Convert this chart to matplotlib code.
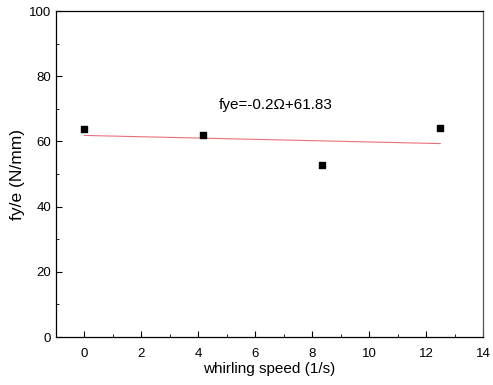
import matplotlib
matplotlib.use("Agg")
import matplotlib.pyplot as plt
from matplotlib.ticker import MultipleLocator
import numpy as np

plt.rcParams['font.family'] = ['Liberation Sans', 'DejaVu Sans']

# whirling speed (1/s) and measured fy/e (N/mm)
speed = [0.0, 4.17, 8.33, 12.5]
fye = [63.8, 61.9, 52.7, 64.0]

# fitted line fye = slope * speed + intercept
slope = -0.2
intercept = 61.83
fit_x = np.array([speed[0], speed[-1]])
fit_y = slope * fit_x + intercept

fig = plt.figure(figsize=(4.93, 3.85), dpi=100)
ax = fig.add_axes([56 / 493, 48 / 385, 427 / 493, 326 / 385])

ax.plot(fit_x, fit_y, color='#e8707a', lw=0.8)
ax.scatter(speed, fye, marker='s', s=22, color='black', zorder=3)
ax.text(6.7, 71.2, 'fye=-0.2\u03a9+61.83', ha='center', va='center', fontsize=11)

ax.set_xlim(-1, 14)
ax.set_ylim(0, 100)
ax.xaxis.set_major_locator(MultipleLocator(2))
ax.xaxis.set_minor_locator(MultipleLocator(1))
ax.yaxis.set_major_locator(MultipleLocator(20))
ax.yaxis.set_minor_locator(MultipleLocator(10))
ax.tick_params(which='both', direction='in', labelsize=9.5, top=False, right=False)
ax.tick_params(which='major', length=4)
ax.tick_params(which='minor', length=2.5)
ax.tick_params(axis='x', pad=8)
for s in ax.spines.values():
    s.set_linewidth(0.9)
ax.spines['right'].set_color('#555555')

ax.set_xlabel('whirling speed (1/s)', fontsize=11, labelpad=1)
ax.set_ylabel('fy/e (N/mm)', fontsize=12.5, labelpad=3)

fig.savefig('out.png', dpi=100)
